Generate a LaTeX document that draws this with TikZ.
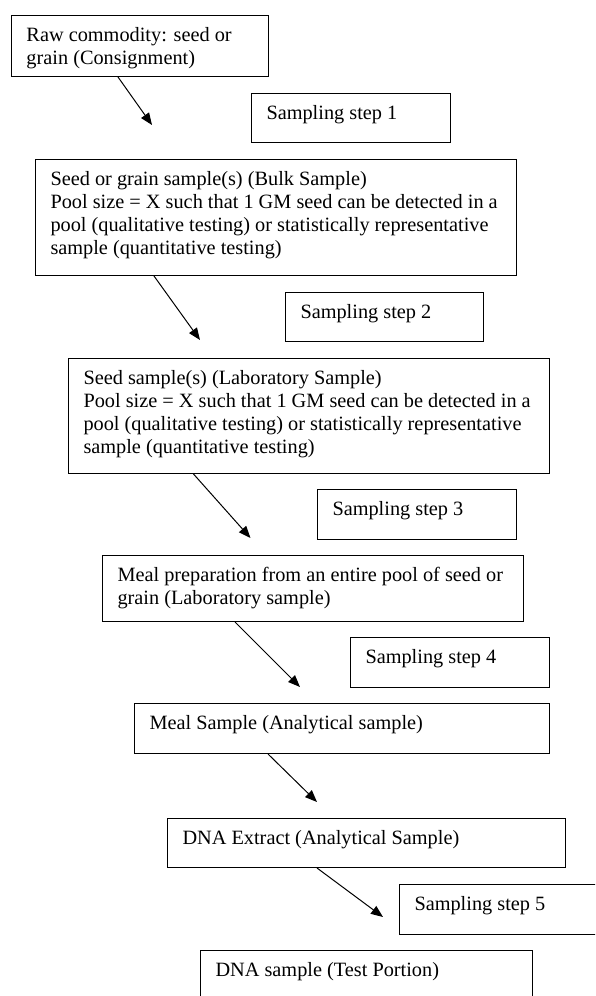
\documentclass[tikz,border=0pt]{standalone}
\usepackage{fontspec}
\setmainfont{Liberation Serif}
\usetikzlibrary{arrows.meta}
\tikzset{
  flowbox/.style={draw, line width=1pt, anchor=north west, inner xsep=15pt,
    inner ysep=0pt, text height=26pt, font=\fontsize{20.3}{23}\selectfont},
  flowarrow/.style={line width=1pt, -{Triangle[length=12pt,width=9.5pt]}}
}
\begin{document}
\begin{tikzpicture}[x=1pt,y=-1pt]
\useasboundingbox (0,0) rectangle (595,996);
\fill[white] (0,0) rectangle (595,996);
\clip (0,0) rectangle (595,996);

\node[flowbox, text depth=35pt] (b1) at (11,15)
  {\parbox[t]{227pt}{Raw commodity: seed or\\grain (Consignment)}};
\node[flowbox, text depth=23pt] (s1) at (251,93)
  {\parbox[t]{169pt}{Sampling step 1}};
\node[flowbox, text depth=90pt] (b2) at (35,159)
  {\parbox[t]{451pt}{Seed or grain sample(s) (Bulk Sample)\\Pool size = X such that 1 GM seed can be detected in a\\pool (qualitative testing) or statistically representative\\sample (quantitative testing)}};
\node[flowbox, text depth=23pt] (s2) at (285,292)
  {\parbox[t]{168pt}{Sampling step 2}};
\node[flowbox, text depth=89pt] (b3) at (68,358)
  {\parbox[t]{451pt}{Seed sample(s) (Laboratory Sample)\\Pool size = X such that 1 GM seed can be detected in a\\pool (qualitative testing) or statistically representative\\sample (quantitative testing)}};
\node[flowbox, text depth=24pt] (s3) at (317,489)
  {\parbox[t]{169pt}{Sampling step 3}};
\node[flowbox, text depth=40pt] (b4) at (102,555)
  {\parbox[t]{391pt}{Meal preparation from an entire pool of seed or\\grain (Laboratory sample)}};
\node[flowbox, text depth=24pt] (s4) at (350,637)
  {\parbox[t]{169pt}{Sampling step 4}};
\node[flowbox, text depth=24pt] (b5) at (134,703)
  {\parbox[t]{385pt}{Meal Sample (Analytical sample)}};
\node[flowbox, text depth=23pt] (b6) at (167,818)
  {\parbox[t]{368pt}{DNA Extract (Analytical Sample)}};
\node[flowbox, text depth=24pt] (s5) at (399,884)
  {\parbox[t]{170pt}{Sampling step 5}};
\node[flowbox, text depth=24pt] (b7) at (200,950)
  {\parbox[t]{302pt}{DNA sample (Test Portion)}};

\coordinate (e1) at (152,125);
\coordinate (e2) at (200,340);
\coordinate (e3) at (250.5,538);
\coordinate (e4) at (300,687);
\coordinate (e5) at (317,802);
\coordinate (e6) at (383,917);

\draw[flowarrow] ([xshift=107pt]b1.south west) -- (e1);
\draw[flowarrow] ([xshift=119pt]b2.south west) -- (e2);
\draw[flowarrow] ([xshift=125.5pt]b3.south west) -- (e3);
\draw[flowarrow] ([xshift=133pt]b4.south west) -- (e4);
\draw[flowarrow] ([xshift=134pt]b5.south west) -- (e5);
\draw[flowarrow] ([xshift=150pt]b6.south west) -- (e6);
\end{tikzpicture}
\end{document}
